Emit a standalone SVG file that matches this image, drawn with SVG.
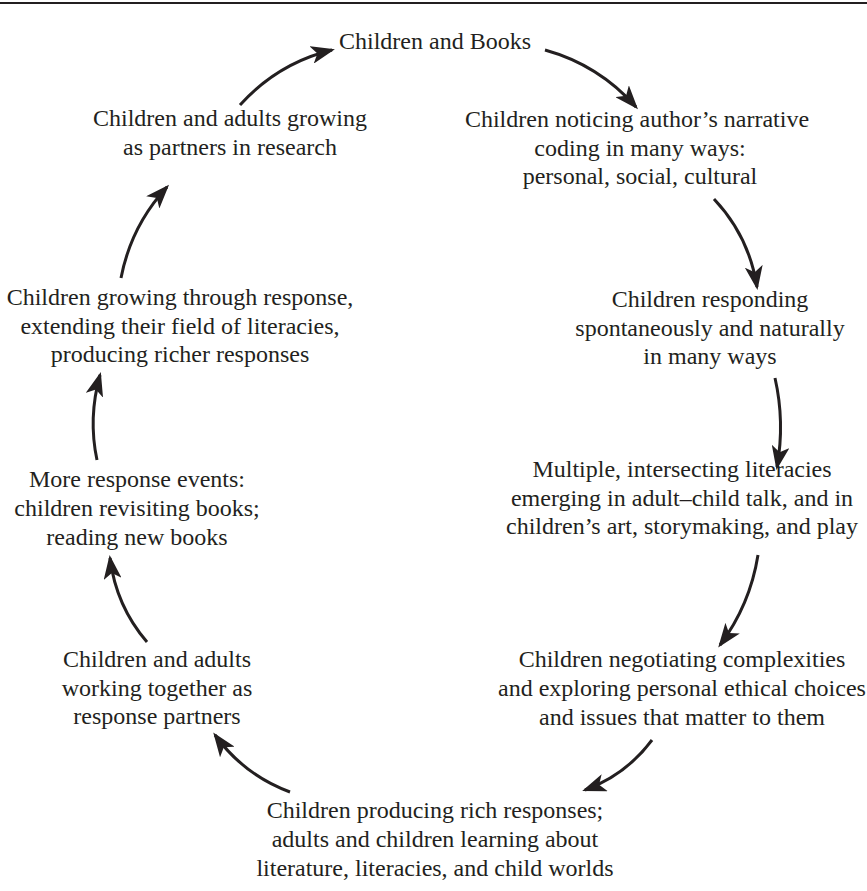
<svg xmlns="http://www.w3.org/2000/svg" width="867" height="891" viewBox="0 0 867 891">
<style>
text { font-family: "Liberation Serif", "Times New Roman", serif; font-size: 24px; fill: #231f20; text-anchor: middle; }
.arr { fill: none; stroke: #231f20; stroke-width: 3; marker-end: url(#ah); }
</style>
<defs>
<marker id="ah" viewBox="0 0 24 18" refX="21" refY="9" markerWidth="24" markerHeight="18" markerUnits="userSpaceOnUse" orient="auto">
<path d="M0,0 L24,9 L0,18 L6,9 Z" fill="#231f20"/>
</marker>
</defs>
<rect width="867" height="891" fill="#fff"/>
<line x1="0" y1="3" x2="867" y2="3" stroke="#231f20" stroke-width="2"/>
<g id="n-books"><text x="435" y="49">Children and Books</text></g>
<g id="n-noticing"><text x="637" y="127">Children noticing author’s narrative</text><text x="640" y="155.5">coding in many ways:</text><text x="640" y="184">personal, social, cultural</text></g>
<g id="n-responding"><text x="710" y="307">Children responding</text><text x="710" y="335.5">spontaneously and naturally</text><text x="710" y="364">in many ways</text></g>
<g id="n-multiple"><text x="682" y="477">Multiple, intersecting literacies</text><text x="682" y="505.5">emerging in adult–child talk, and in</text><text x="682" y="534">children’s art, storymaking, and play</text></g>
<g id="n-negotiating"><text x="682" y="667">Children negotiating complexities</text><text x="682" y="696">and exploring personal ethical choices</text><text x="682" y="725">and issues that matter to them</text></g>
<g id="n-producing"><text x="435" y="818">Children producing rich responses;</text><text x="435" y="847">adults and children learning about</text><text x="435" y="876">literature, literacies, and child worlds</text></g>
<g id="n-working"><text x="157" y="667">Children and adults</text><text x="157" y="695.5">working together as</text><text x="157" y="724">response partners</text></g>
<g id="n-more"><text x="137" y="487">More response events:</text><text x="137" y="516">children revisiting books;</text><text x="137" y="545">reading new books</text></g>
<g id="n-growing"><text x="180" y="305">Children growing through response,</text><text x="180" y="333.5">extending their field of literacies,</text><text x="180" y="362">producing richer responses</text></g>
<g id="n-partners"><text x="230" y="126">Children and adults growing</text><text x="230" y="155">as partners in research</text></g>
<g id="connectors">
<path class="arr" d="M240,105 Q278,63 332,50"/>
<path class="arr" d="M545,50 Q599,65 636,107"/>
<path class="arr" d="M714,199 Q749,236 757,287"/>
<path class="arr" d="M775,378 Q785,422 777,467"/>
<path class="arr" d="M758,555 Q750,605 720,645"/>
<path class="arr" d="M652,740 Q626,775 585,790"/>
<path class="arr" d="M290,792 Q244,775 215,735"/>
<path class="arr" d="M147,642 Q116,606 110,558"/>
<path class="arr" d="M97,460 Q88,418 100,375"/>
<path class="arr" d="M121,278 Q131,226 167,187"/>
</g>
</svg>
